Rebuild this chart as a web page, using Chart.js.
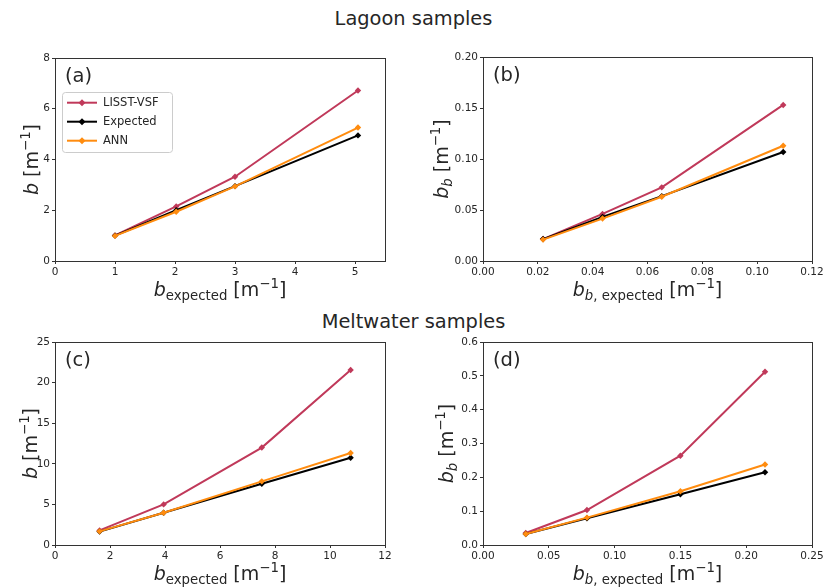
<!DOCTYPE html>
<html>
<head>
<meta charset="utf-8">
<title>Lagoon and meltwater samples</title>
<script src="https://cdn.jsdelivr.net/npm/chart.js@4.4.1/dist/chart.umd.min.js"></script>
<style>
  body { margin: 0; background: #fff; width: 827px; height: 588px; position: relative; overflow: hidden; }
  canvas { position: absolute; }
  .suptitle { position: absolute; left: 0; width: 827px; text-align: center;
              font-family: 'DejaVu Sans', sans-serif; font-size: 19.4px; color: #262626; }
</style>
</head>
<body>
<div class="suptitle" style="top:7px">Lagoon samples</div>
<div class="suptitle" style="top:310px">Meltwater samples</div>
<canvas id="chartA" width="410" height="270" style="left:0;top:40px"></canvas>
<canvas id="chartB" width="417" height="270" style="left:410px;top:40px"></canvas>
<canvas id="chartC" width="410" height="258" style="left:0;top:330px"></canvas>
<canvas id="chartD" width="417" height="258" style="left:410px;top:330px"></canvas>
<script>
// series names and colours
const seriesNames = ['LISST-VSF', 'Expected', 'ANN'];
const seriesColors = ['#c0395a', '#000000', '#ff8c0f'];

// (a) lagoon, total scattering b
const lagoonBX = [1.0, 2.02, 3.0, 5.05];
const lagoonBLisst = [1.01, 2.15, 3.32, 6.72];
const lagoonBExpected = [1.0, 2.0, 2.95, 4.95];
const lagoonBAnn = [0.99, 1.94, 2.94, 5.26];

// (b) lagoon, backscattering bb
const lagoonBbX = [0.0219, 0.0436, 0.0652, 0.1095];
const lagoonBbLisst = [0.0215, 0.0462, 0.0722, 0.153];
const lagoonBbExpected = [0.0215, 0.0433, 0.0636, 0.1068];
const lagoonBbAnn = [0.021, 0.0416, 0.063, 0.113];

// (c) meltwater, total scattering b
const meltBX = [1.62, 3.95, 7.52, 10.75];
const meltBLisst = [1.8, 5.0, 12.0, 21.55];
const meltBExpected = [1.65, 3.98, 7.55, 10.75];
const meltBAnn = [1.68, 3.98, 7.84, 11.33];

// (d) meltwater, backscattering bb
const meltBbX = [0.0325, 0.079, 0.150, 0.2143];
const meltBbLisst = [0.0355, 0.1034, 0.264, 0.512];
const meltBbExpected = [0.0325, 0.079, 0.150, 0.215];
const meltBbAnn = [0.0325, 0.081, 0.159, 0.238];

// tick values per axis
const ticksXA = [0, 1, 2, 3, 4, 5];
const ticksYA = [0, 2, 4, 6, 8];
const ticksXB = [0, 0.02, 0.04, 0.06, 0.08, 0.10, 0.12];
const ticksYB = [0, 0.05, 0.10, 0.15, 0.20];
const ticksXC = [0, 2, 4, 6, 8, 10, 12];
const ticksYC = [0, 5, 10, 15, 20, 25];
const ticksXD = [0, 0.05, 0.10, 0.15, 0.20, 0.25];
const ticksYD = [0, 0.1, 0.2, 0.3, 0.4, 0.5, 0.6];

const FONT = "'DejaVu Sans', sans-serif";
const INK = '#262626';

// axis titles as rich-text runs
const titleB = [{ t: 'b', it: true }, { t: ' [m' }, { t: '\u22121', sup: true }, { t: ']' }];
const titleBb = [{ t: 'b', it: true }, { t: 'b', it: true, sub: true }, { t: ' [m' }, { t: '\u22121', sup: true }, { t: ']' }];
const titleBExp = [{ t: 'b', it: true }, { t: 'expected', sub: true }, { t: ' [m' }, { t: '\u22121', sup: true }, { t: ']' }];
const titleBbExp = [{ t: 'b', it: true }, { t: 'b', it: true, sub: true }, { t: ', ', sub: true }, { t: 'expected', sub: true },
                    { t: ' [m' }, { t: '\u22121', sup: true }, { t: ']' }];

function runFont(r, size) {
  const s = (r.sub || r.sup) ? size * 0.7 : size;
  return (r.it ? 'italic ' : '') + s + 'px ' + FONT;
}

function drawRich(ctx, runs, size) {
  // draws centred on the current origin, baseline at y = 0
  let total = 0;
  runs.forEach(r => { ctx.font = runFont(r, size); total += ctx.measureText(r.t).width; });
  let x = -total / 2;
  ctx.textBaseline = 'alphabetic';
  ctx.textAlign = 'left';
  runs.forEach(r => {
    ctx.font = runFont(r, size);
    const dy = r.sub ? size * 0.22 : (r.sup ? -size * 0.42 : 0);
    ctx.fillText(r.t, x, dy);
    x += ctx.measureText(r.t).width;
  });
}

// frame, axis titles, panel letter and legend
const panelDecor = {
  id: 'panelDecor',
  afterDraw(chart, args, opts) {
    const ctx = chart.ctx;
    const a = chart.chartArea;
    ctx.save();
    ctx.strokeStyle = '#333';
    ctx.lineWidth = 1;
    ctx.strokeRect(Math.round(a.left) + 0.5, Math.round(a.top) + 0.5,
                   Math.round(a.right - a.left), Math.round(a.bottom - a.top));

    ctx.fillStyle = INK;
    ctx.save();
    ctx.translate((a.left + a.right) / 2, a.bottom + 35);
    drawRich(ctx, opts.xTitle, 19);
    ctx.restore();

    ctx.save();
    ctx.translate(a.left - opts.yTitleGap, (a.top + a.bottom) / 2);
    ctx.rotate(-Math.PI / 2);
    drawRich(ctx, opts.yTitle, 19);
    ctx.restore();

    ctx.font = '19.5px ' + FONT;
    ctx.textAlign = 'left';
    ctx.textBaseline = 'alphabetic';
    ctx.fillText(opts.letter, a.left + 10, a.top + 23.5);

    if (opts.legend) {
      const lx = a.left + 7, ly = a.top + 34, lw = 110, lh = 60;
      ctx.beginPath();
      ctx.roundRect(lx + 0.5, ly + 0.5, lw, lh, 3);
      ctx.fillStyle = 'rgba(255,255,255,0.8)';
      ctx.fill();
      ctx.strokeStyle = '#cccccc';
      ctx.stroke();
      chart.data.datasets.forEach((ds, i) => {
        const y = ly + 10.7 + i * 19;
        ctx.strokeStyle = ds.borderColor;
        ctx.lineWidth = 2;
        ctx.beginPath();
        ctx.moveTo(lx + 5, y);
        ctx.lineTo(lx + 35, y);
        ctx.stroke();
        ctx.fillStyle = ds.borderColor;
        ctx.beginPath();
        ctx.moveTo(lx + 20, y - 3.5);
        ctx.lineTo(lx + 23.5, y);
        ctx.lineTo(lx + 20, y + 3.5);
        ctx.lineTo(lx + 16.5, y);
        ctx.closePath();
        ctx.fill();
        ctx.fillStyle = INK;
        ctx.font = '11.5px ' + FONT;
        ctx.textBaseline = 'middle';
        ctx.fillText(ds.label, lx + 41, y + 0.5);
      });
    }
    ctx.restore();
  }
};

function makeAxis(pos, min, max, values, decimals, size) {
  return {
    type: 'linear',
    position: pos,
    min: min,
    max: max,
    afterBuildTicks: s => { s.ticks = values.map(v => ({ value: v })); },
    afterFit: s => { if (pos === 'left') s.width = size; else s.height = size; },
    border: { display: false },
    grid: { drawOnChartArea: false, drawTicks: true, tickLength: 3, color: '#333', tickWidth: 1 },
    ticks: {
      color: INK,
      font: { family: FONT, size: 10.5 },
      padding: 2,
      maxRotation: 0,
      autoSkip: false,
      callback: v => Number(v).toFixed(decimals)
    }
  };
}

function makeChart(id, xs, lisst, expected, ann, cfg) {
  const series = [lisst, expected, ann];
  const datasets = series.map((vals, i) => ({
    label: seriesNames[i],
    data: xs.map((x, j) => ({ x: x, y: vals[j] })),
    borderColor: seriesColors[i],
    backgroundColor: seriesColors[i],
    borderWidth: 2,
    pointStyle: 'rectRot',
    pointRadius: 3.2,
    pointBorderWidth: 0,
    tension: 0,
    order: 2 - i
  }));
  return new Chart(document.getElementById(id), {
    type: 'line',
    data: { datasets: datasets },
    options: {
      responsive: false,
      animation: false,
      events: [],
      layout: { padding: { top: cfg.padTop, right: cfg.padRight, left: 0, bottom: 0 } },
      plugins: {
        legend: { display: false },
        tooltip: { enabled: false },
        panelDecor: cfg.decor
      },
      scales: {
        x: makeAxis('bottom', cfg.xMin, cfg.xMax, cfg.xTicks, cfg.xDec, cfg.xAxisH),
        y: makeAxis('left', cfg.yMin, cfg.yMax, cfg.yTicks, cfg.yDec, cfg.yAxisW)
      }
    },
    plugins: [panelDecor]
  });
}

makeChart('chartA', lagoonBX, lagoonBLisst, lagoonBExpected, lagoonBAnn, {
  xMin: 0, xMax: 5.5, xTicks: ticksXA, xDec: 0,
  yMin: 0, yMax: 8, yTicks: ticksYA, yDec: 0,
  padTop: 18, padRight: 25, yAxisW: 55, xAxisH: 49,
  decor: { xTitle: titleBExp, yTitle: titleB, yTitleGap: 17, letter: '(a)', legend: true }
});

makeChart('chartB', lagoonBbX, lagoonBbLisst, lagoonBbExpected, lagoonBbAnn, {
  xMin: 0, xMax: 0.12, xTicks: ticksXB, xDec: 2,
  yMin: 0, yMax: 0.20, yTicks: ticksYB, yDec: 2,
  padTop: 17, padRight: 15, yAxisW: 73, xAxisH: 49,
  decor: { xTitle: titleBbExp, yTitle: titleBb, yTitleGap: 35, letter: '(b)', legend: false }
});

makeChart('chartC', meltBX, meltBLisst, meltBExpected, meltBAnn, {
  xMin: 0, xMax: 12, xTicks: ticksXC, xDec: 0,
  yMin: 0, yMax: 25, yTicks: ticksYC, yDec: 0,
  padTop: 12, padRight: 25, yAxisW: 55, xAxisH: 43,
  decor: { xTitle: titleBExp, yTitle: titleB, yTitleGap: 18, letter: '(c)', legend: false }
});

makeChart('chartD', meltBbX, meltBbLisst, meltBbExpected, meltBbAnn, {
  xMin: 0, xMax: 0.25, xTicks: ticksXD, xDec: 2,
  yMin: 0, yMax: 0.6, yTicks: ticksYD, yDec: 1,
  padTop: 12, padRight: 15, yAxisW: 73, xAxisH: 43,
  decor: { xTitle: titleBbExp, yTitle: titleBb, yTitleGap: 30, letter: '(d)', legend: false }
});
</script>
</body>
</html>
